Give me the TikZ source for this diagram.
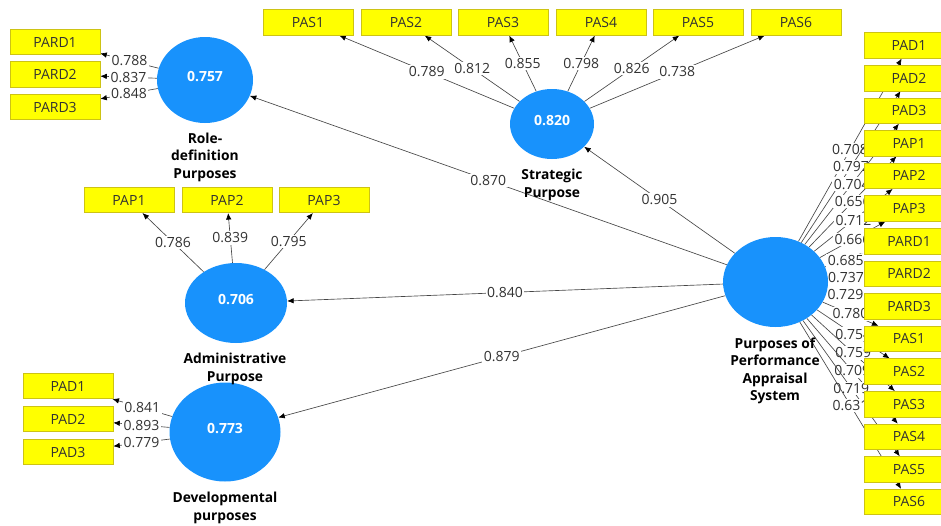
\documentclass[tikz,border=0pt]{standalone}
\usepackage{fontspec}
\setmainfont{Open Sans}
\usetikzlibrary{shapes.geometric,arrows.meta,backgrounds}
\definecolor{lvblue}{RGB}{24,146,252}
\definecolor{indyel}{RGB}{255,255,0}
\definecolor{indborder}{RGB}{205,195,20}
\definecolor{linegray}{RGB}{70,70,70}
\definecolor{txtgray}{RGB}{50,50,50}
\begin{document}
\begin{tikzpicture}[x=1pt,y=-1pt,
  ind/.style={draw=indborder, fill=indyel, minimum width=90pt, minimum height=25.5pt,
    inner sep=0pt, font=\fontsize{14}{16}\selectfont, text=txtgray, line width=0.6pt},
  lv/.style={ellipse, fill=lvblue, inner sep=0pt, text=white,
    font=\bfseries\fontsize{14}{16}\selectfont, text depth=8pt},
  cons/.style={font=\bfseries\fontsize{13.8}{17.5}\selectfont, align=center, text=black, inner sep=0pt},
  ld/.style={-{Latex[length=6.5pt,width=5.5pt,color=black]}, draw=linegray, line width=0.65pt},
  lab/.style={fill=white, inner sep=1.5pt, font=\fontsize{14}{16}\selectfont, text=txtgray}
]
\useasboundingbox (0,0) rectangle (941,525);
\clip (0,0) rectangle (941,525);

% latent variables
\node[lv, minimum width=96pt, minimum height=86pt] (role) at (205,80) {0.757};
\node[lv, minimum width=84pt, minimum height=70pt] (strat) at (552,124) {0.820};
\node[lv, minimum width=102pt, minimum height=80pt] (admin) at (236,303) {0.706};
\node[lv, minimum width=111pt, minimum height=99pt] (dev) at (225,432) {0.773};
\node[lv, minimum width=105pt, minimum height=90pt] (main) at (775.5,282) {};

% construct names
\node[cons] (rolet) at (205,157) {Role-\\definition\\Purposes};
\node[cons] (stratt) at (552,185) {Strategic\\Purpose};
\node[cons] (admint) at (235,369) {Administrative\\Purpose};
\node[cons] (devt) at (225,508) {Developmental\\purposes};
\node[cons] (maint) at (775,371) {Purposes of\\Performance\\Appraisal\\System};

% indicators: role-definition
\node[ind] (lpard1) at (55,42) {PARD1};
\node[ind] (lpard2) at (55,74.5) {PARD2};
\node[ind] (lpard3) at (55,107) {PARD3};
% strategic
\node[ind] (spas1) at (308,22.5) {PAS1};
\node[ind] (spas2) at (406,22.5) {PAS2};
\node[ind] (spas3) at (503,22.5) {PAS3};
\node[ind] (spas4) at (601,22.5) {PAS4};
\node[ind] (spas5) at (698,22.5) {PAS5};
\node[ind] (spas6) at (796,22.5) {PAS6};
% administrative
\node[ind] (apap1) at (129,200) {PAP1};
\node[ind] (apap2) at (227,200) {PAP2};
\node[ind] (apap3) at (324,200) {PAP3};
% developmental
\node[ind] (dpad1) at (68,386) {PAD1};
\node[ind] (dpad2) at (68,419) {PAD2};
\node[ind] (dpad3) at (68,452) {PAD3};
% second order indicators (right column)
\foreach \n/\t [count=\i from 0] in {rpad1/PAD1,rpad2/PAD2,rpad3/PAD3,rpap1/PAP1,rpap2/PAP2,rpap3/PAP3,rpard1/PARD1,rpard2/PARD2,rpard3/PARD3,rpas1/PAS1,rpas2/PAS2,rpas3/PAS3,rpas4/PAS4,rpas5/PAS5,rpas6/PAS6}
  \node[ind] (\n) at (909,{45.5+32.6*\i}) {\t};

\begin{scope}[on background layer]
  \draw[ld] (role) -- node[lab]{0.788} (lpard1);
  \draw[ld] (role) -- node[lab]{0.837} (lpard2);
  \draw[ld] (role) -- node[lab]{0.848} (lpard3);
  \foreach \n/\v in {spas1/0.789,spas2/0.812,spas3/0.855,spas4/0.798,spas5/0.826,spas6/0.738}
    \draw[ld] (strat) -- node[lab]{\v} (\n);
  \foreach \n/\v in {apap1/0.786,apap2/0.839,apap3/0.795}
    \draw[ld] (admin) -- node[lab]{\v} (\n);
  \foreach \n/\v in {dpad1/0.841,dpad2/0.893,dpad3/0.779}
    \draw[ld] (dev) -- node[lab]{\v} (\n);
  \foreach \n/\v in {rpad1/0.708,rpad2/0.797,rpad3/0.704,rpap1/0.656,rpap2/0.712,rpap3/0.666,rpard1/0.685,rpard2/0.737,rpard3/0.729,rpas1/0.780,rpas2/0.754,rpas3/0.759,rpas4/0.709,rpas5/0.719,rpas6/0.631}
    \draw[ld] (main) -- node[lab]{\v} (\n);
  \draw[ld] (main) -- node[lab]{0.870} (role);
  \draw[ld] (main) -- node[lab]{0.905} (strat);
  \draw[ld] (main) -- node[lab]{0.840} (admin);
  \draw[ld] (main) -- node[lab]{0.879} (dev);
\end{scope}
\end{tikzpicture}
\end{document}
